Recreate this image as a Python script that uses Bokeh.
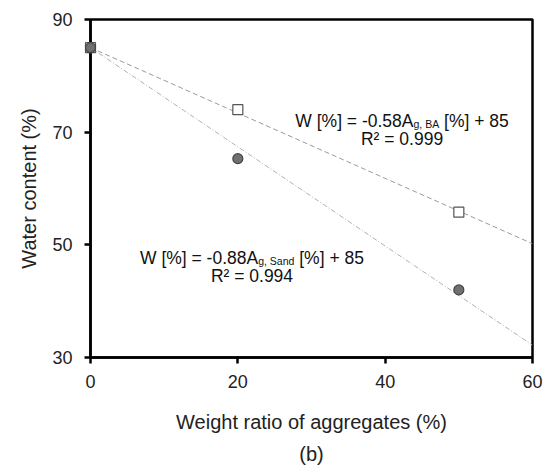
from bokeh.plotting import figure
from bokeh.models import Range1d, FixedTicker, Label, Title
from bokeh.embed import file_html
from bokeh.resources import INLINE

# data
ratio = [0, 20, 50]
water_ba = [85, 74, 55.8]
water_sand = [85, 65.3, 42]
fit_x = [0, 60]
slope_ba, icpt_ba = -0.58, 85
slope_sand, icpt_sand = -0.88, 85
x_ticks = [0, 20, 40, 60]
y_ticks = [30, 50, 70, 90]

FONT = "Liberation Sans"

p = figure(width=551, height=469, output_backend="svg", toolbar_location=None,
           x_range=Range1d(0, 60), y_range=Range1d(30, 90),
           min_border_left=90, min_border_right=19, min_border_top=19, min_border_bottom=20)
p.grid.visible = False
p.outline_line_color = "black"
p.outline_line_width = 2.5
p.background_fill_color = "white"
p.border_fill_color = "white"

for ax, ticks in ((p.xaxis, x_ticks), (p.yaxis, y_ticks)):
    ax.ticker = FixedTicker(ticks=ticks)
    ax.minor_tick_line_color = None
    ax.major_tick_out = 6
    ax.major_tick_in = 0
    ax.axis_line_width = 2.5
    ax.major_tick_line_width = 2.5
    ax.axis_line_color = "black"
    ax.major_tick_line_color = "black"
    ax.major_label_text_font = FONT
    ax.major_label_text_font_size = "18px"
    ax.major_label_text_color = "#222222"
    ax.axis_label_text_font = FONT
    ax.axis_label_text_font_size = "20px"
    ax.axis_label_text_font_style = "normal"
    ax.axis_label_text_color = "#222222"

p.xaxis.axis_label = "Weight ratio of aggregates (%)"
p.yaxis.axis_label = "Water content (%)"
p.xaxis.major_label_standoff = 11
p.yaxis.major_label_standoff = 12
p.xaxis.axis_label_standoff = 20
p.yaxis.axis_label_standoff = 9

# trend lines
p.line(fit_x, [slope_ba * x + icpt_ba for x in fit_x], line_color="#9a9a9a",
       line_width=1, line_dash="5 3")
p.line(fit_x, [slope_sand * x + icpt_sand for x in fit_x], line_color="#b0b0b0",
       line_width=1, line_dash="5 2 1 2")

# markers
r1 = p.scatter(ratio, water_ba, marker="square", size=10, fill_color="white",
               line_color="#555555", line_width=1.2)
r2 = p.scatter(ratio, water_sand, marker="circle", size=10, fill_color="#707070",
               line_color="#444444", line_width=1.2)
r1.level = "overlay"
r2.level = "overlay"

def equation(xc, yb, yr2, coef, sub, r2txt, sub_w):
    main = "W [%] = " + coef + "A"
    tail = "\u00a0[%] + 85"
    main_w = 6.753 * 17.5
    tail_w = 3.975 * 17.5
    total = main_w + sub_w + tail_w
    x0 = -total / 2
    p.add_layout(Label(x=xc, y=yb, x_offset=x0, text=main, text_font=FONT,
                       text_font_size="17.5px", text_align="left",
                       text_baseline="alphabetic", text_color="#111111"))
    p.add_layout(Label(x=xc, y=yb, x_offset=x0 + main_w, y_offset=-3, text=sub,
                       text_font=FONT, text_font_size="10.5px", text_align="left",
                       text_baseline="alphabetic", text_color="#111111"))
    p.add_layout(Label(x=xc, y=yb, x_offset=x0 + main_w + sub_w, text=tail,
                       text_font=FONT, text_font_size="17.5px", text_align="left",
                       text_baseline="alphabetic", text_color="#111111"))
    p.add_layout(Label(x=xc, y=yr2, text=r2txt, text_font=FONT,
                       text_font_size="17.5px", text_align="center",
                       text_baseline="alphabetic", text_color="#111111"))

equation(42.29, 72.07, 68.87, "-0.58", "g, BA", "R² = 0.999", 2.446 * 10.5)
equation(21.92, 47.75, 44.38, "-0.88", "g, Sand", "R² = 0.994", 3.447 * 10.5)

cap = Title(text="(b)", align="center", text_font=FONT, text_font_size="20px",
            text_font_style="normal", text_color="#222222", standoff=10)
p.add_layout(cap, "below")

open("out.html", "w").write(file_html(p, INLINE))
